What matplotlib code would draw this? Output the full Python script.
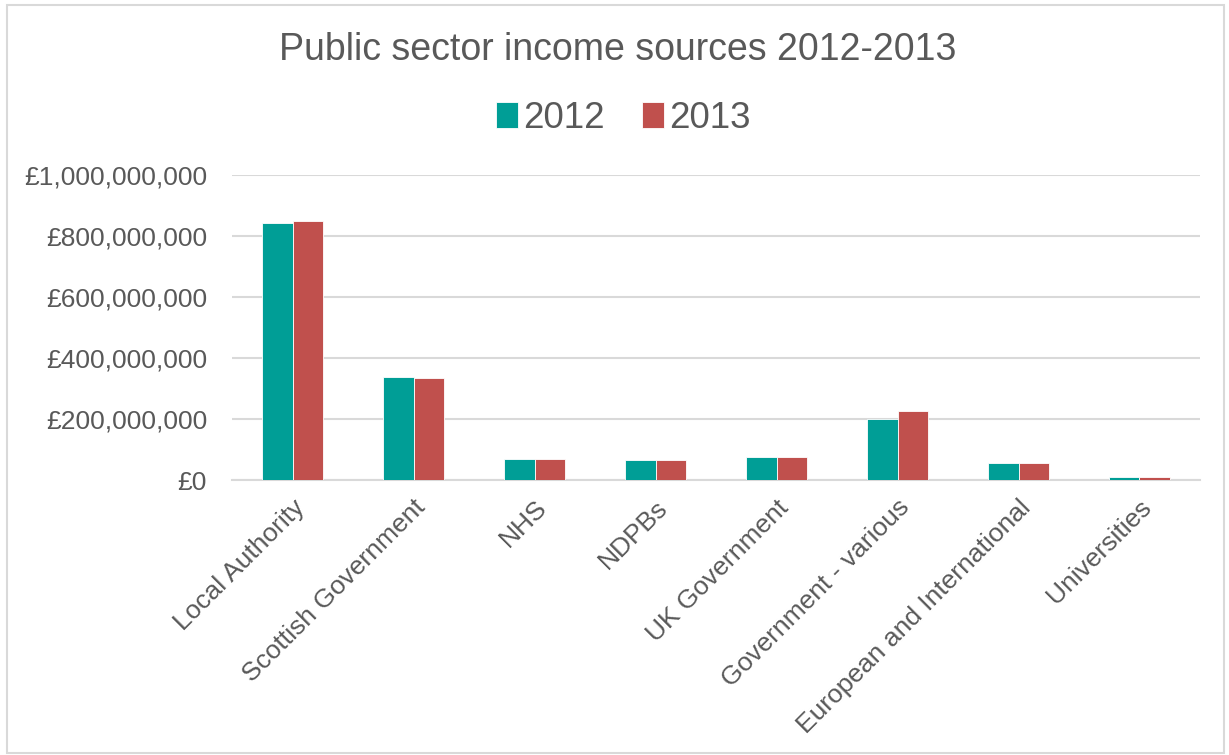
import matplotlib.pyplot as plt
import numpy as np
from matplotlib.patches import Rectangle
from matplotlib.ticker import FuncFormatter

plt.rcParams["font.family"] = ["Liberation Sans", "DejaVu Sans"]

categories = [
    "Local Authority",
    "Scottish Government",
    "NHS",
    "NDPBs",
    "UK Government",
    "Government - various",
    "European and International",
    "Universities",
]
income_2012 = [841e6, 338e6, 69e6, 64e6, 74e6, 201e6, 55e6, 9e6]
income_2013 = [849e6, 333e6, 70e6, 64e6, 77e6, 227e6, 55e6, 11e6]
yticks = [0, 200e6, 400e6, 600e6, 800e6, 1000e6]

TEAL = "#009E96"
RED = "#C0504D"
TEXT = "#595959"
GRID = "#D9D9D9"


def pounds(v, _pos):
    return f"£{v:,.0f}"


fig = plt.figure(figsize=(12.29, 7.55), dpi=100)
fig.patches.append(Rectangle((0.006, 0.003), 0.99, 0.99, transform=fig.transFigure,
                             fill=False, edgecolor=GRID, linewidth=1.5))

ax = fig.add_axes([0.1888, 0.3642, 0.7876, 0.4044])

x = np.arange(len(categories))
w = 0.25
ax.bar(x - w / 2, income_2012, w, color=TEAL, label="2012", zorder=3,
       edgecolor="white", linewidth=0.6)
ax.bar(x + w / 2, income_2013, w, color=RED, label="2013", zorder=3,
       edgecolor="white", linewidth=0.6)

ax.set_xlim(-0.5, len(categories) - 0.5)
ax.set_ylim(0, 1e9)
ax.set_yticks(yticks)
ax.yaxis.set_major_formatter(FuncFormatter(pounds))
ax.grid(axis="y", color=GRID, linewidth=1.5, zorder=0)

ax.set_xticks(x)
ax.set_xticklabels(categories, rotation=45, ha="right", rotation_mode="anchor")
ax.tick_params(axis="both", length=0, labelsize=19, labelcolor=TEXT)
ax.tick_params(axis="x", pad=11)
ax.tick_params(axis="y", pad=18)

for side in ("top", "right", "left"):
    ax.spines[side].set_visible(False)
ax.spines["bottom"].set_color(GRID)
ax.spines["bottom"].set_linewidth(1.5)

fig.text(0.503, 0.934, "Public sector income sources 2012-2013", ha="center",
         va="center", fontsize=27, color=TEXT)
fig.legend(loc="center", bbox_to_anchor=(0.507, 0.843), ncol=2, frameon=False,
           fontsize=26.5, labelcolor=TEXT, handlelength=0.6, handleheight=0.7,
           handletextpad=0.15, columnspacing=1.0)

fig.savefig("out.png", dpi=100)
